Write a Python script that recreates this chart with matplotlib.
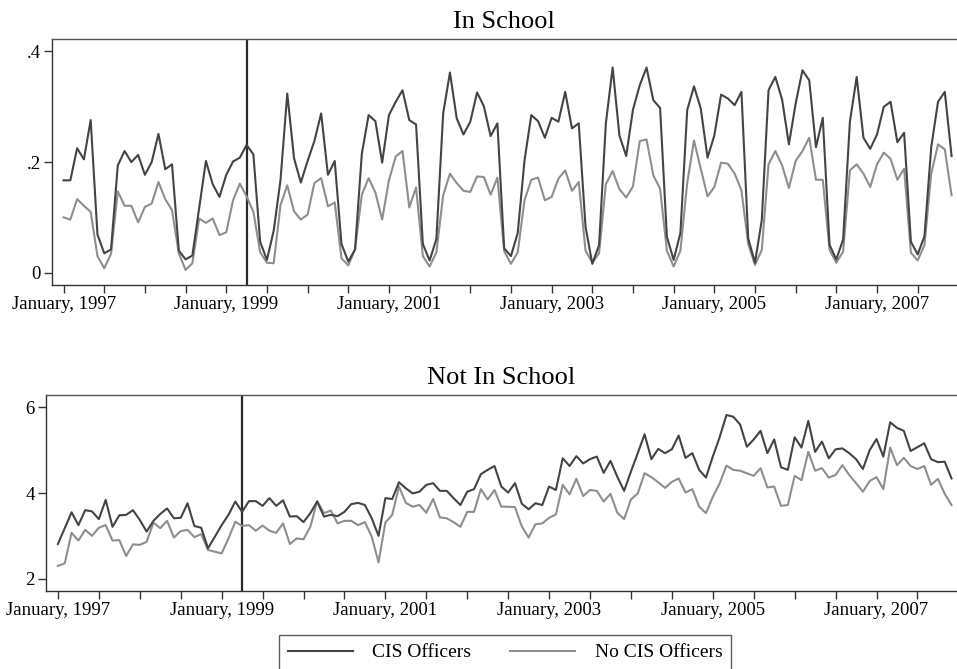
import matplotlib
matplotlib.use("Agg")
import matplotlib.pyplot as plt
import numpy as np

# ---------------- data (monthly, Jan 1997 - Dec 2007) ----------------
in_school_cis = [
    .167, .167, .225, .205, .276, .069, .035, .042, .194, .220, .200, .213,
    .177, .200, .251, .187, .196, .040, .024, .031, .116, .202, .160, .137,
    .177, .201, .208, .231, .214, .056, .023, .076, .167, .324, .207, .163,
    .202, .238, .288, .177, .202, .052, .020, .042, .215, .285, .274, .199,
    .285, .309, .330, .276, .268, .052, .022, .061, .288, .362, .279, .250,
    .273, .326, .301, .247, .270, .044, .030, .072, .203, .285, .274, .244,
    .280, .273, .327, .261, .270, .083, .016, .050, .270, .371, .248, .211,
    .295, .339, .371, .312, .298, .065, .023, .072, .294, .337, .297, .208,
    .248, .322, .315, .303, .327, .062, .018, .095, .330, .354, .313, .232,
    .306, .366, .348, .227, .280, .050, .024, .060, .273, .354, .244, .224,
    .250, .300, .309, .236, .253, .056, .033, .066, .227, .309, .327, .211,
]
in_school_nocis = [
    .100, .096, .133, .121, .110, .030, .008, .034, .147, .121, .121, .091,
    .119, .125, .164, .133, .113, .035, .005, .017, .098, .090, .098, .068,
    .073, .131, .161, .138, .110, .037, .018, .017, .122, .158, .111, .096,
    .105, .162, .171, .120, .127, .026, .013, .042, .141, .171, .145, .096,
    .167, .210, .220, .118, .154, .030, .011, .037, .140, .179, .162, .148,
    .146, .174, .173, .141, .172, .039, .016, .037, .131, .168, .172, .131,
    .137, .170, .185, .148, .164, .040, .018, .035, .160, .184, .151, .136,
    .156, .238, .241, .176, .152, .040, .011, .040, .162, .239, .188, .138,
    .155, .199, .197, .179, .149, .052, .014, .041, .196, .220, .194, .153,
    .202, .220, .244, .168, .168, .041, .018, .038, .185, .196, .179, .155,
    .196, .217, .206, .168, .188, .036, .022, .050, .179, .232, .223, .140,
]
not_school_cis = [
    2.81, 3.18, 3.55, 3.25, 3.60, 3.57, 3.39, 3.84, 3.21, 3.48, 3.49, 3.60,
    3.37, 3.10, 3.35, 3.51, 3.64, 3.41, 3.42, 3.76, 3.23, 3.19, 2.71, 2.98,
    3.25, 3.49, 3.80, 3.56, 3.81, 3.81, 3.70, 3.88, 3.70, 3.83, 3.45, 3.46,
    3.32, 3.53, 3.80, 3.45, 3.49, 3.46, 3.56, 3.74, 3.77, 3.72, 3.41, 3.00,
    3.88, 3.86, 4.25, 4.11, 3.99, 4.03, 4.19, 4.23, 4.05, 4.05, 3.88, 3.72,
    4.03, 4.09, 4.44, 4.54, 4.63, 4.15, 4.01, 4.23, 3.75, 3.62, 3.76, 3.72,
    4.15, 4.07, 4.81, 4.63, 4.86, 4.69, 4.79, 4.85, 4.47, 4.75, 4.38, 4.05,
    4.50, 4.93, 5.37, 4.79, 5.03, 4.93, 5.02, 5.34, 4.82, 4.93, 4.54, 4.36,
    4.85, 5.30, 5.82, 5.78, 5.60, 5.08, 5.25, 5.45, 4.93, 5.25, 4.60, 4.54,
    5.30, 5.06, 5.68, 4.96, 5.20, 4.81, 5.02, 5.04, 4.93, 4.79, 4.56, 5.00,
    5.26, 4.85, 5.65, 5.52, 5.45, 4.98, 5.07, 5.16, 4.79, 4.72, 4.73, 4.34,
]
not_school_nocis = [
    2.30, 2.36, 3.07, 2.89, 3.14, 3.00, 3.19, 3.25, 2.89, 2.90, 2.53, 2.80,
    2.79, 2.86, 3.31, 3.18, 3.35, 2.96, 3.11, 3.14, 2.97, 3.04, 2.67, 2.63,
    2.59, 2.94, 3.33, 3.23, 3.25, 3.12, 3.24, 3.12, 3.07, 3.29, 2.81, 2.94,
    2.92, 3.21, 3.81, 3.53, 3.59, 3.29, 3.35, 3.35, 3.25, 3.32, 2.98, 2.38,
    3.31, 3.49, 4.15, 3.77, 3.68, 3.72, 3.54, 3.86, 3.43, 3.41, 3.32, 3.21,
    3.56, 3.56, 4.09, 3.85, 4.07, 3.68, 3.68, 3.67, 3.22, 2.96, 3.27, 3.29,
    3.42, 3.50, 4.19, 3.97, 4.33, 3.93, 4.07, 4.05, 3.80, 3.98, 3.54, 3.39,
    3.85, 3.99, 4.46, 4.37, 4.25, 4.12, 4.26, 4.34, 4.01, 4.09, 3.68, 3.53,
    3.91, 4.22, 4.64, 4.54, 4.52, 4.46, 4.40, 4.58, 4.13, 4.15, 3.70, 3.72,
    4.40, 4.30, 4.96, 4.52, 4.58, 4.36, 4.42, 4.65, 4.42, 4.23, 4.03, 4.28,
    4.37, 4.09, 5.06, 4.65, 4.82, 4.63, 4.56, 4.63, 4.19, 4.33, 3.98, 3.72,
]
months = np.arange(len(in_school_cis))          # 0 = January 1997
event_month = 27                                 # vertical reference line
tick_months = list(range(0, 132, 6))
label_years = [1997, 1999, 2001, 2003, 2005, 2007]
series_names = ["CIS Officers", "No CIS Officers"]
panel_titles = ["In School", "Not In School"]
top_yticks = [0, 0.2, 0.4]
top_yticklabels = ["0", ".2", ".4"]
bot_yticks = [2, 4, 6]
bot_yticklabels = ["2", "4", "6"]

# ---------------- style ----------------
plt.rcParams['font.family'] = ['Liberation Serif', 'DejaVu Serif']
DARK = "#444444"
LIGHT = "#8e8e8e"
FS = 13.5

W, H = 957, 669
fig = plt.figure(figsize=(W / 100, H / 100), dpi=100)

def fx(px): return px / W
def fy(py): return 1 - py / H

ax1 = fig.add_axes([fx(51.7), fy(285), fx(957 - 51.7), (285 - 39) / H])
ax2 = fig.add_axes([fx(46), fy(591), fx(957 - 46), (591 - 395) / H])

tick_labels = []
for m in tick_months:
    if m % 24 == 0:
        tick_labels.append(f"January, {label_years[m // 24]}")
    else:
        tick_labels.append("")

def style(ax, title, yticks, yticklabels, ylim):
    ax.set_xlim(-1.75, 131.8)
    ax.set_ylim(*ylim)
    ax.set_xticks(tick_months)
    ax.set_xticklabels(tick_labels, fontsize=FS)
    ax.set_yticks(yticks)
    ax.set_yticklabels(yticklabels, fontsize=FS)
    ax.tick_params(axis='both', direction='out', length=6, width=1.0,
                   color="#333333", pad=2)
    for s in ax.spines.values():
        s.set_color("#333333")
        s.set_linewidth(1.0)
    ax.spines['right'].set_visible(False)
    ax.spines['top'].set_color("#555555")
    ax.set_title(title, fontsize=19, pad=8)
    ax.axvline(event_month, color="#2a2a2a", lw=1.6, zorder=1)

l1, = ax1.plot(months, in_school_cis, color=DARK, lw=1.5, zorder=3)
l2, = ax1.plot(months, in_school_nocis, color=LIGHT, lw=1.5, zorder=2)
style(ax1, panel_titles[0], top_yticks, top_yticklabels, (-0.0223, 0.4226))

ax2.plot(months, not_school_cis, color=DARK, lw=1.5, zorder=3)
ax2.plot(months, not_school_nocis, color=LIGHT, lw=1.5, zorder=2)
style(ax2, panel_titles[1], bot_yticks, bot_yticklabels, (1.713, 6.287))

leg = fig.legend([l1, l2], series_names, loc='upper center',
                 bbox_to_anchor=(fx(505), fy(635)), ncol=2, fontsize=14,
                 frameon=True, fancybox=False, edgecolor="#333333",
                 handlelength=3.35, handletextpad=1.0, columnspacing=2.0,
                 borderpad=0.45, borderaxespad=0)
leg.get_frame().set_linewidth(1.0)

fig.savefig("out.png", dpi=100)
